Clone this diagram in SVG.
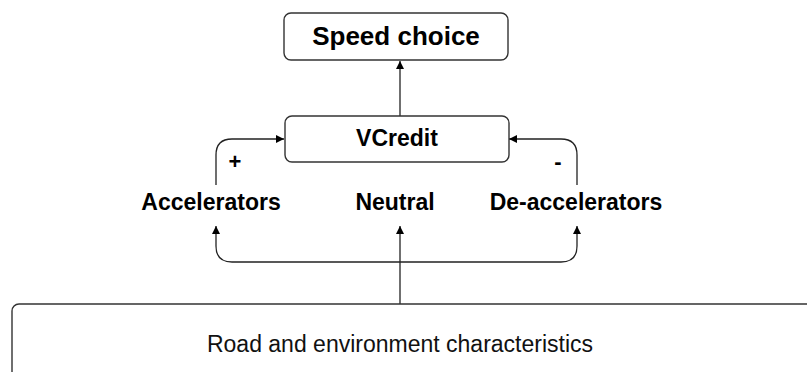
<svg xmlns="http://www.w3.org/2000/svg" width="807" height="372" viewBox="0 0 807 372">
  <style>
    .box { fill: #ffffff; stroke: #333333; stroke-width: 1.4; }
    .lbl { font-family: "Liberation Sans", Arial, sans-serif; font-weight: bold; fill: #000000; text-anchor: middle; }
    .plain { font-family: "Liberation Sans", Arial, sans-serif; fill: #111111; text-anchor: middle; }
    .edge { fill: none; stroke: #222222; stroke-width: 1.3; }
  </style>
  <defs>
    <marker id="arrow" viewBox="0 0 10 10" refX="10" refY="5" markerWidth="8" markerHeight="8" markerUnits="userSpaceOnUse" orient="auto">
      <path d="M0,0 L10,5 L0,10 Z" fill="#000000"/>
    </marker>
  </defs>

  <rect width="807" height="372" fill="#ffffff"/>

  <!-- connectors -->
  <g id="connectors">
    <path class="edge" d="M400,116 V61" marker-end="url(#arrow)"/>
    <path class="edge" d="M216,185 V155 Q216,139 232,139 H284" marker-end="url(#arrow)"/>
    <path class="edge" d="M577,185 V155 Q577,139 561,139 H509" marker-end="url(#arrow)"/>
    <path class="edge" d="M400,304 V226" marker-end="url(#arrow)"/>
    <path class="edge" d="M400,262 H232 Q216,262 216,246 V226" marker-end="url(#arrow)"/>
    <path class="edge" d="M400,262 H561 Q577,262 577,246 V226" marker-end="url(#arrow)"/>
    <text class="lbl" x="235" y="169" font-size="22">+</text>
    <text class="lbl" x="558" y="169" font-size="22">-</text>
  </g>

  <g id="speed-choice">
    <rect class="box" x="284" y="13" width="224" height="47" rx="7"/>
    <text class="lbl" x="396" y="45" font-size="26">Speed choice</text>
  </g>

  <g id="vcredit">
    <rect class="box" x="285" y="116" width="224" height="46" rx="7"/>
    <text class="lbl" x="397" y="146" font-size="23">VCredit</text>
  </g>

  <g id="accelerators">
    <text class="lbl" x="211" y="210" font-size="23">Accelerators</text>
  </g>

  <g id="neutral">
    <text class="lbl" x="395" y="210" font-size="23">Neutral</text>
  </g>

  <g id="de-accelerators">
    <text class="lbl" x="576" y="210" font-size="23">De-accelerators</text>
  </g>

  <g id="road-environment">
    <rect class="box" x="12" y="304" width="830" height="110" rx="7"/>
    <text class="plain" x="400" y="352" font-size="23">Road and environment characteristics</text>
  </g>
</svg>
